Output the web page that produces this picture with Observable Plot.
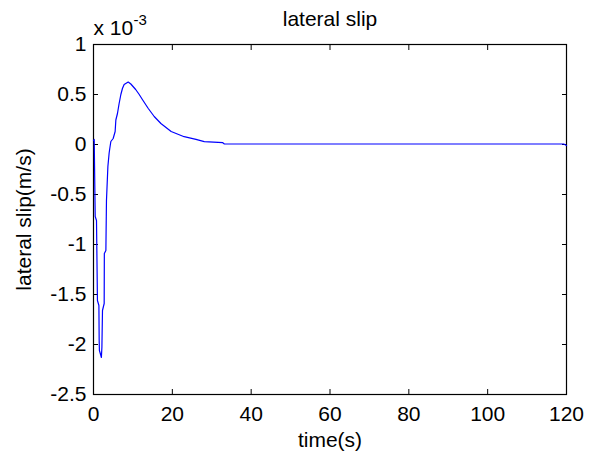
<!DOCTYPE html>
<html>
<head>
<meta charset="utf-8">
<script src="https://cdn.jsdelivr.net/npm/d3@7"></script>
<script src="https://cdn.jsdelivr.net/npm/@observablehq/plot@0.6"></script>
<style>
  html, body { margin: 0; padding: 0; background: #fff; }
  #chart { width: 599px; height: 455px; }
  svg { font-family: "Liberation Sans", Arial, Helvetica, sans-serif; }
</style>
</head>
<body>
<div id="chart"></div>
<script>
// time (s)
const time = [0, 0.18, 0.43, 0.76, 1.0, 1.37, 1.44, 1.5, 1.87, 2.0, 2.13, 2.28, 2.71, 2.75, 3.14, 3.29, 3.65, 3.97, 4.15, 4.4, 4.99, 5.49, 5.67, 6.08, 6.5, 6.94, 7.34, 7.77, 8.8, 9.47, 10.7, 11.6, 12.4, 13.9, 15.4, 17.1, 19.7, 23.0, 26.0, 28.1, 32.8, 33.2, 60, 90, 119.3, 120];
// lateral slip (x 10^-3 m/s)
const slip = [0.04, 0.05, -0.72, -0.76, -1.56, -1.61, -1.96, -2.06, -2.11, -2.13, -2.03, -1.66, -1.59, -1.09, -1.06, -0.56, -0.22, -0.085, -0.035, 0.03, 0.06, 0.13, 0.245, 0.31, 0.41, 0.5, 0.56, 0.6, 0.625, 0.605, 0.55, 0.5, 0.45, 0.36, 0.28, 0.21, 0.13, 0.078, 0.052, 0.028, 0.018, 0.005, 0.005, 0.005, 0.005, -0.01];
const xTicks = [0, 20, 40, 60, 80, 100, 120];
const yTicks = [-2.5, -2, -1.5, -1, -0.5, 0, 0.5, 1];
const titleText = "lateral slip";
const xLabel = "time(s)";
const yLabel = "lateral slip(m/s)";
const expBase = "x 10";
const expPow = "-3";

const data = time.map((t, i) => ({t, v: slip[i]}));

const chart = Plot.plot({
  width: 599,
  height: 455,
  marginLeft: 93,
  marginRight: 33,
  marginTop: 44,
  marginBottom: 61,
  style: {fontSize: "21px", fontFamily: "'Liberation Sans', Arial, Helvetica, sans-serif", color: "#000", background: "#fff"},
  x: {domain: [0, 120]},
  y: {domain: [-2.5, 1]},
  marks: [
    Plot.frame({stroke: "#000", strokeWidth: 1.2}),
    Plot.axisX(xTicks, {anchor: "bottom", tickSize: -5, tickPadding: 17, label: null, fontSize: 21, tickFormat: d => String(d)}),
    Plot.axisX(xTicks, {anchor: "top", tickSize: -5, label: null, tickFormat: () => ""}),
    Plot.axisY(yTicks, {anchor: "left", tickSize: -5, tickPadding: 12, label: null, fontSize: 21, tickFormat: d => String(d)}),
    Plot.axisY(yTicks, {anchor: "right", tickSize: -5, label: null, tickFormat: () => ""}),
    Plot.line(data, {x: "t", y: "v", stroke: "#0000ff", strokeWidth: 1.2}),
    Plot.text([titleText], {frameAnchor: "top", dy: -25, fontSize: 21, textAnchor: "middle", lineAnchor: "middle", fill: "#000"}),
    Plot.text([expBase], {frameAnchor: "top-left", dx: 0, dy: -10, fontSize: 21, textAnchor: "start", lineAnchor: "bottom", fill: "#000"}),
    Plot.text([expPow], {frameAnchor: "top-left", dx: 40, dy: -20, fontSize: 15, textAnchor: "start", lineAnchor: "bottom", fill: "#000"}),
    Plot.text([xLabel], {frameAnchor: "bottom", dy: 46, fontSize: 21, textAnchor: "middle", lineAnchor: "middle", fill: "#000"}),
    Plot.text([yLabel], {frameAnchor: "left", dx: -69, rotate: -90, fontSize: 21, textAnchor: "middle", lineAnchor: "middle", fill: "#000"})
  ]
});
document.getElementById("chart").appendChild(chart);
</script>
</body>
</html>
